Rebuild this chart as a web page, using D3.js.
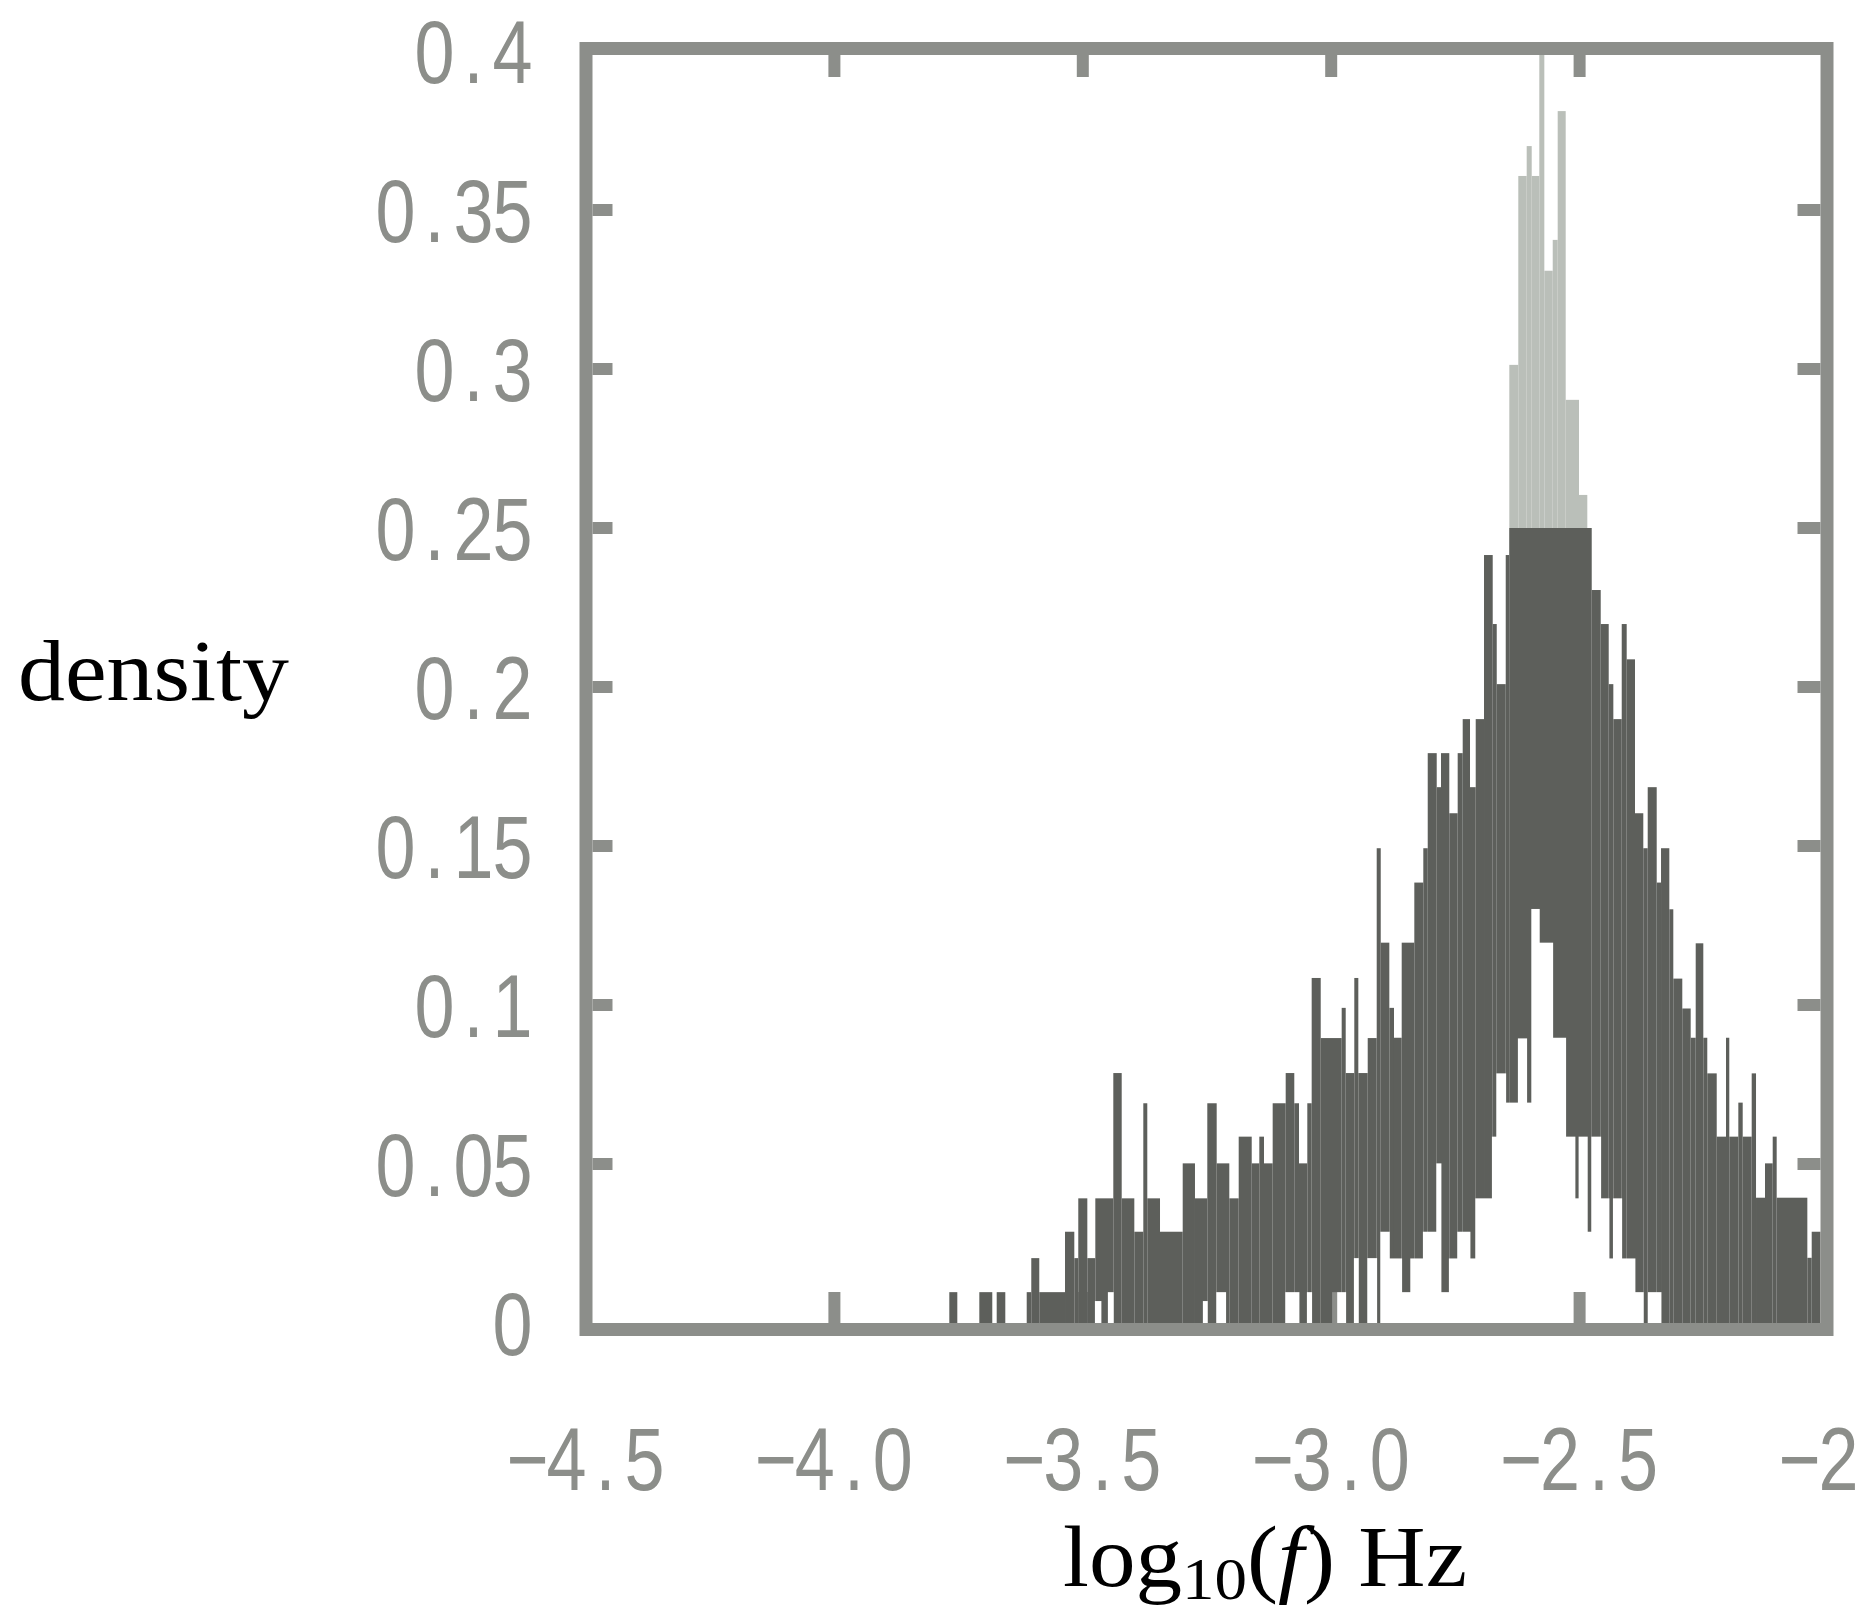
<!DOCTYPE html>
<html>
<head>
<meta charset="utf-8">
<script src="https://cdn.jsdelivr.net/npm/d3@7"></script>
<style>
  html, body { margin: 0; padding: 0; background: #ffffff; }
  svg { display: block; }
</style>
</head>
<body>
<svg id="chart" width="1866" height="1614"></svg>
<script>
// ---------------- data ----------------
const xTickValues = [-4.5, -4.0, -3.5, -3.0, -2.5, -2.0];
const xTickLabels = ["\u22124.5", "\u22124.0", "\u22123.5", "\u22123.0", "\u22122.5", "\u22122"];
const yTickValues = [0, 0.05, 0.1, 0.15, 0.2, 0.25, 0.3, 0.35, 0.4];
const yTickLabels = ["0", "0.05", "0.1", "0.15", "0.2", "0.25", "0.3", "0.35", "0.4"];

// broad histogram (dark): bin edges in log10(f) and density per bin
const darkEdges = [-3.7687, -3.7526, -3.7083, -3.6822, -3.6733, -3.6560, -3.6129, -3.6037, -3.5876, -3.5358,
  -3.5171, -3.5091, -3.4909, -3.4748, -3.4386, -3.4217, -3.3963, -3.3782, -3.3702, -3.3446,
  -3.2989, -3.2742, -3.2494, -3.2305, -3.2051, -3.1862, -3.1600, -3.1447, -3.1353, -3.1178,
  -3.0916, -3.0743, -3.0648, -3.0481, -3.0393, -3.0211, -2.9789, -2.9708, -2.9535, -2.9454,
  -2.9265, -2.9084, -2.9003, -2.8830, -2.8736, -2.8581, -2.8327, -2.8146, -2.8057, -2.7876,
  -2.7790, -2.7623, -2.7454, -2.7353, -2.7206, -2.7091, -2.6924, -2.6749, -2.6668, -2.6487,
  -2.6415, -2.4756, -2.4575, -2.4414, -2.4321, -2.4152, -2.4052, -2.3885, -2.3718, -2.3629,
  -2.3448, -2.3361, -2.3194, -2.3114, -2.2933, -2.2764, -2.2663, -2.2510, -2.2430, -2.2240,
  -2.2053, -2.1987, -2.1805, -2.1717, -2.1536, -2.1449, -2.1268, -2.1113, -2.1033, -2.0416,
  -2.0328, -2.0000];
const darkDensity = [0.0097, 0, 0.0097, 0, 0.0097, 0, 0.0097, 0.0204, 0.0097, 0.0287,
  0.0204, 0.0392, 0.0204, 0.0392, 0.0786, 0.0392, 0.0287, 0.0691, 0.0392, 0.0287,
  0.0502, 0.0392, 0.0691, 0.0502, 0.0392, 0.0586, 0.0502, 0.0586, 0.0502, 0.0691,
  0.0786, 0.0691, 0.0502, 0.0691, 0.1085, 0.0896, 0.0991, 0.0786, 0.1085, 0.0786,
  0.0896, 0.1493, 0.1196, 0.0991, 0.0897, 0.1196, 0.1385, 0.1493, 0.1792, 0.1685,
  0.1792, 0.1603, 0.1792, 0.1899, 0.1685, 0.1899, 0.2415, 0.2198, 0.2009, 0.2415,
  0.2500, 0.2305, 0.2198, 0.2009, 0.1899, 0.2198, 0.2087, 0.1603, 0.1493, 0.1685,
  0.1385, 0.1493, 0.1301, 0.1083, 0.0989, 0.0897, 0.1194, 0.0897, 0.0785, 0.0586,
  0.0897, 0.0586, 0.0693, 0.0586, 0.0785, 0.0394, 0.0502, 0.0586, 0.0394, 0.0205,
  0.0287];

// lower histogram: the fills start above these values (gap left empty)
const gapEdges = [-3.4748, -3.4634, -3.4487, -3.4386, -3.2575, -3.2494, -3.2305, -3.2124, -3.0916, -3.0648,
  -3.0481, -3.0393, -2.9974, -2.9708, -2.9535, -2.9454, -2.9265, -2.9084, -2.9003, -2.8830,
  -2.8581, -2.8400, -2.8146, -2.7876, -2.7790, -2.7623, -2.7454, -2.7206, -2.7091, -2.6757,
  -2.6668, -2.6487, -2.6234, -2.6065, -2.5964, -2.5811, -2.5541, -2.5280, -2.5093, -2.5012,
  -2.4845, -2.4756, -2.4575, -2.4408, -2.4321, -2.4152, -2.3885, -2.3718, -2.3617, -2.3361];
const gapDensity = [0.0069, 0, 0.0097, 0, 0.0069, 0, 0.0097, 0, 0.0097, 0,
  0.0097, 0, 0.0097, 0, 0.0204, 0, 0.0204, 0, 0.0287, 0.0203,
  0.0097, 0.0203, 0.0287, 0.0502, 0.0097, 0.0203, 0.0287, 0.0203, 0.0392, 0.0586,
  0.0785, 0.0693, 0.0895, 0.0693, 0.1302, 0.1196, 0.0897, 0.0586, 0.0392, 0.0586,
  0.0287, 0.0586, 0.0392, 0.0203, 0.0392, 0.0203, 0.0097, 0, 0.0097];

// narrow peaked histogram (light grey, seen above 0.25)
const peakEdges = [-2.6415, -2.6234, -2.6065, -2.5964, -2.5811, -2.5710, -2.5541, -2.5441, -2.5280, -2.5012, -2.4845];
const peakDensity = [0.3013, 0.3607, 0.3701, 0.3607, 0.4100, 0.3309, 0.3406, 0.3811, 0.2903, 0.2604];

// ---------------- chart ----------------
(function () {
  const W = 1866, H = 1614;
  const frameColor = "#8c8e8a";
  const darkColor = "#5d5f5b";
  const peakColor = "#babfb9";

  const svg = d3.select("#chart");
  svg.append("rect").attr("width", W).attr("height", H).attr("fill", "#ffffff");

  const x = d3.scaleLinear().domain([-4.5, -2.0]).range([586, 1828]);
  const y = d3.scaleLinear().domain([0, 0.4]).range([1323, 51]);

  const FW = 13; // frame line width
  const fLeft = x(-4.5), fRight = x(-2.0) - 1, fTop = y(0.4) - 2.5, fBottom = y(0) + 6.5;
  const innerL = fLeft + FW / 2, innerR = fRight - FW / 2, innerT = fTop + FW / 2, innerB = y(0);

  const defs = svg.append("defs");
  defs.append("clipPath").attr("id", "plotClip")
    .append("rect").attr("x", innerL).attr("y", innerT)
    .attr("width", innerR - innerL).attr("height", innerB - innerT);

  function bins(edges, vals) {
    const n = Math.min(edges.length - 1, vals.length);
    return d3.range(n).map(i => ({ x0: edges[i], x1: edges[i + 1], v: vals[i] })).filter(d => d.v > 0);
  }

  const mask = defs.append("mask").attr("id", "gapMask")
    .attr("maskUnits", "userSpaceOnUse").attr("x", 0).attr("y", 0).attr("width", W).attr("height", H);
  mask.append("rect").attr("x", 0).attr("y", 0).attr("width", W).attr("height", H).attr("fill", "white");
  mask.selectAll("rect.gap").data(bins(gapEdges, gapDensity)).join("rect")
    .attr("class", "gap")
    .attr("x", d => x(d.x0) - 0.4).attr("width", d => x(d.x1) - x(d.x0) + 0.8)
    .attr("y", d => y(d.v)).attr("height", d => y(0) - y(d.v) + 1)
    .attr("fill", "black");

  // ticks (drawn behind the fills)
  const TW = 12;
  const ticks = svg.append("g").attr("stroke", frameColor).attr("stroke-width", TW);
  const xInner = xTickValues.filter(v => v > -4.5 && v < -2.0);
  const yInner = yTickValues.filter(v => v > 0 && v < 0.4);
  ticks.selectAll("line.bt").data(xInner).join("line").attr("class", "bt")
    .attr("x1", d => x(d)).attr("x2", d => x(d)).attr("y1", innerB).attr("y2", innerB - 31);
  ticks.selectAll("line.tt").data(xInner).join("line").attr("class", "tt")
    .attr("x1", d => x(d)).attr("x2", d => x(d)).attr("y1", innerT).attr("y2", innerT + 22);
  ticks.selectAll("line.lt").data(yInner).join("line").attr("class", "lt")
    .attr("x1", innerL).attr("x2", innerL + 20).attr("y1", d => y(d)).attr("y2", d => y(d));
  ticks.selectAll("line.rt").data(yInner).join("line").attr("class", "rt")
    .attr("x1", innerR).attr("x2", innerR - 23).attr("y1", d => y(d)).attr("y2", d => y(d));

  // fills (both masked by the lower histogram)
  const plot = svg.append("g").attr("clip-path", "url(#plotClip)")
    .append("g").attr("mask", "url(#gapMask)");
  plot.append("g").selectAll("rect").data(bins(peakEdges, peakDensity)).join("rect")
    .attr("x", d => x(d.x0)).attr("width", d => x(d.x1) - x(d.x0))
    .attr("y", d => y(d.v)).attr("height", d => y(0) - y(d.v))
    .attr("fill", peakColor);
  plot.append("g").selectAll("rect").data(bins(darkEdges, darkDensity)).join("rect")
    .attr("x", d => x(d.x0)).attr("width", d => x(d.x1) - x(d.x0))
    .attr("y", d => y(d.v)).attr("height", d => y(0) - y(d.v))
    .attr("fill", darkColor);

  // frame
  svg.append("rect")
    .attr("x", fLeft).attr("y", fTop).attr("width", fRight - fLeft).attr("height", fBottom - fTop)
    .attr("fill", "none").attr("stroke", frameColor).attr("stroke-width", FW);

  // tick labels: one glyph per fixed-width cell, tall narrow glyphs
  const CELL = 39, SX = 1.2, SY = 1.49;
  function tickText(g, px, py, s, align) {
    const chars = Array.from(s);
    const n = chars.length;
    let start = align === "end" ? px - CELL * n : px - CELL * n / 2;
    start = Math.min(start, W - 8 - CELL * n);
    const xs = chars.map((c, i) => ((start + CELL * (i + 0.5)) / SX).toFixed(2)).join(" ");
    g.append("text")
      .attr("transform", `translate(0,${py + 32}) scale(${SX},${SY})`)
      .attr("x", xs).attr("y", 0)
      .attr("text-anchor", "middle")
      .attr("font-family", "Liberation Sans, Arial, sans-serif")
      .attr("font-size", 60)
      .attr("fill", frameColor)
      .text(s);
  }
  const lab = svg.append("g");
  yTickValues.forEach((v, i) => tickText(lab, 532, y(v), yTickLabels[i], "end"));
  xTickValues.forEach((v, i) => tickText(lab, x(v), 1458, xTickLabels[i], "middle"));

  // axis titles
  svg.append("text")
    .attr("x", 18).attr("y", 700)
    .attr("font-family", "Liberation Serif, DejaVu Serif, serif")
    .attr("font-size", 86).attr("fill", "#000")
    .attr("textLength", 271).attr("lengthAdjust", "spacingAndGlyphs")
    .text("density");

  const xt = svg.append("text")
    .attr("x", 1063).attr("y", 1586)
    .attr("font-family", "Liberation Serif, DejaVu Serif, serif")
    .attr("font-size", 86).attr("fill", "#000")
    .attr("textLength", 404).attr("lengthAdjust", "spacingAndGlyphs");
  xt.append("tspan").text("log");
  xt.append("tspan").attr("font-size", 60).attr("dy", 13).text("10");
  xt.append("tspan").attr("dy", -13).text("(");
  xt.append("tspan").attr("font-style", "italic").text("f");
  xt.append("tspan").text(") Hz");
})();
</script>
</body>
</html>
